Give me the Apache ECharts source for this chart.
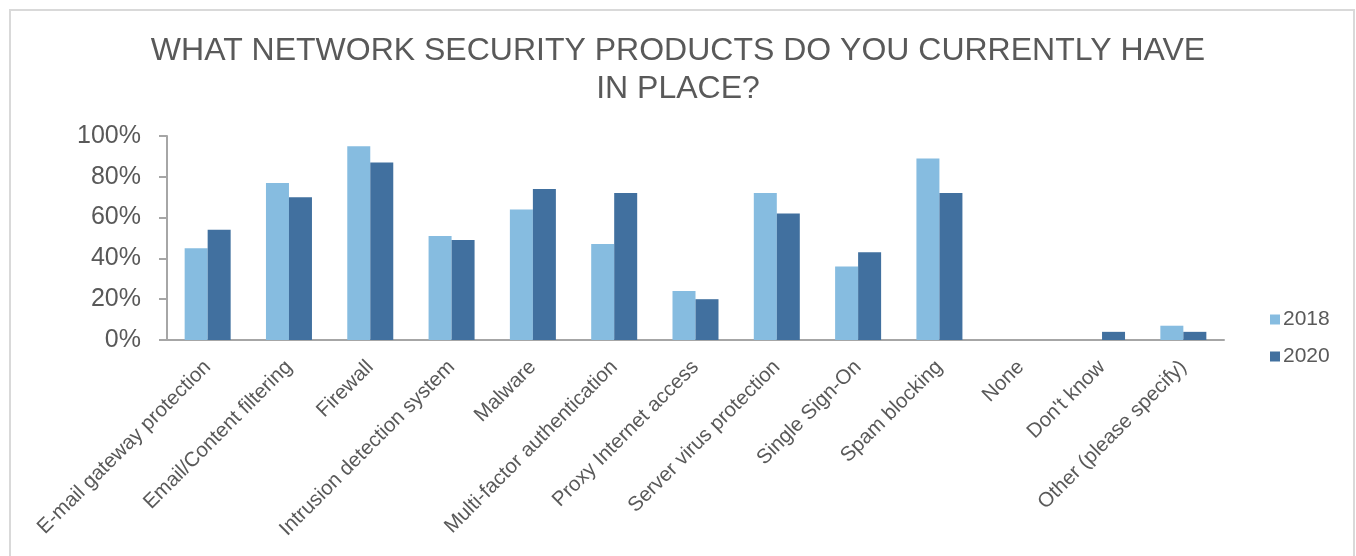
<!DOCTYPE html>
<html>
<head>
<meta charset="utf-8">
<script src="https://cdn.jsdelivr.net/npm/echarts@6/dist/echarts.min.js"></script>
<style>
html,body{margin:0;padding:0;background:#fff;}
#chart{width:1356px;height:556px;}
</style>
</head>
<body>
<div id="chart"></div>
<script>
const categories = [
  "E-mail gateway protection",
  "Email/Content filtering",
  "Firewall",
  "Intrusion detection system",
  "Malware",
  "Multi-factor authentication",
  "Proxy Internet access",
  "Server virus protection",
  "Single Sign-On",
  "Spam blocking",
  "None",
  "Don't know",
  "Other (please specify)"
];
const values2018 = [45, 77, 95, 51, 64, 47, 24, 72, 36, 89, 0, 0, 7];
const values2020 = [54, 70, 87, 49, 74, 72, 20, 62, 43, 72, 0, 4, 4];
const yTicks = [0, 20, 40, 60, 80, 100];
const titleText = "WHAT NETWORK SECURITY PRODUCTS DO YOU CURRENTLY HAVE\nIN PLACE?";

const FONT = "Liberation Sans, Arial, sans-serif";
const TXT = "#595959";

const chart = echarts.init(document.getElementById('chart'), null, {renderer: 'canvas'});
chart.setOption({
  animation: false,
  backgroundColor: '#ffffff',
  graphic: [{
    type: 'rect',
    shape: {x: 10, y: 10, width: 1344, height: 600},
    style: {fill: 'none', stroke: '#d9d9d9', lineWidth: 2},
    silent: true
  }],
  title: {
    text: titleText,
    left: 'center',
    top: 27,
    textStyle: {
      fontFamily: FONT,
      fontSize: 32,
      fontWeight: 'normal',
      color: TXT,
      lineHeight: 38
    }
  },
  legend: {
    orient: 'vertical',
    left: 1265,
    top: 304,
    itemWidth: 10,
    itemHeight: 10,
    itemGap: 16,
    icon: 'rect',
    textStyle: {fontFamily: FONT, fontSize: 21, color: TXT, padding: [0,0,0,-2]},
    data: ['2018', '2020']
  },
  grid: {
    left: 167,
    right: 132,
    top: 136,
    bottom: 216,
    containLabel: false
  },
  xAxis: {
    type: 'category',
    data: categories,
    axisLine: {lineStyle: {color: '#a6a6a6', width: 2}},
    axisTick: {show: false},
    axisLabel: {
      interval: 0,
      rotate: 45,
      margin: 24,
      fontFamily: FONT,
      fontSize: 20.5,
      color: TXT
    }
  },
  yAxis: {
    type: 'value',
    min: 0,
    max: 100,
    interval: 20,
    axisLine: {show: true, lineStyle: {color: '#a6a6a6', width: 2}},
    axisTick: {show: true, length: 8, lineStyle: {color: '#a6a6a6', width: 2}},
    splitLine: {show: false},
    axisLabel: {
      margin: 26,
      fontFamily: FONT,
      fontSize: 25,
      color: TXT,
      formatter: function (v) { return yTicks.indexOf(v) >= 0 ? v + '%' : ''; }
    }
  },
  series: [
    {
      name: '2018',
      type: 'bar',
      data: values2018,
      barWidth: 23,
      barGap: '0%',
      itemStyle: {color: '#86BCE0'}
    },
    {
      name: '2020',
      type: 'bar',
      data: values2020,
      barWidth: 23,
      barGap: '0%',
      itemStyle: {color: '#41709F'}
    }
  ]
});
</script>
</body>
</html>
